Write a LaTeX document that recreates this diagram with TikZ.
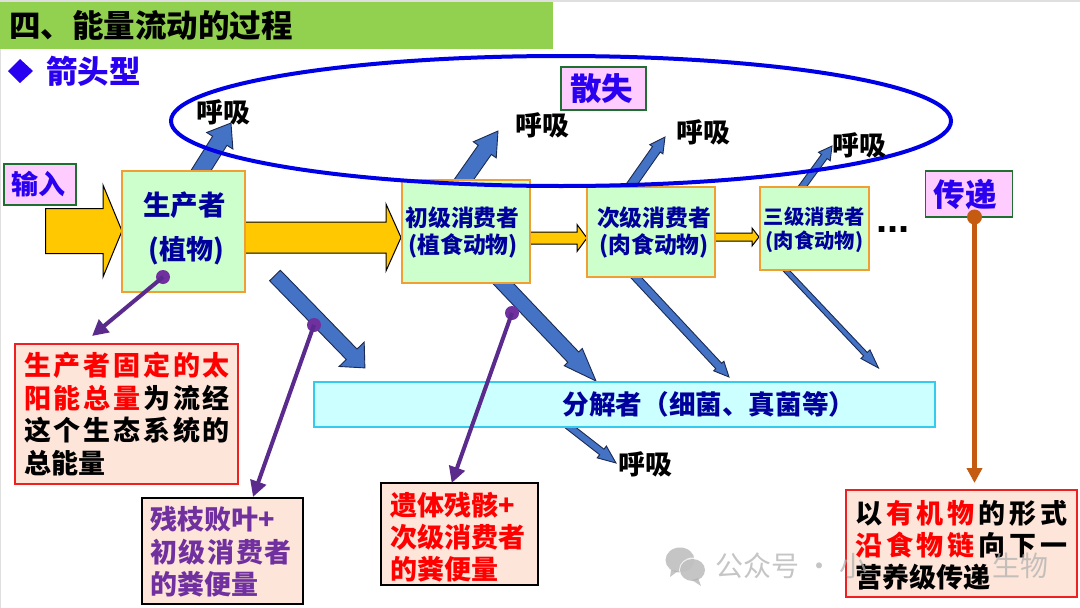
\documentclass[tikz,border=0pt]{standalone}
\usepackage{fontspec}
\setmainfont{Noto Sans CJK SC}
\newfontfamily\dotfont{Liberation Sans}
\usetikzlibrary{calc,arrows.meta}
\definecolor{hdr}{HTML}{92D050}
\definecolor{ttl}{HTML}{2A00F0}
\definecolor{navy}{HTML}{00009C}
\definecolor{pinkf}{HTML}{FFCCFF}
\definecolor{grnb}{HTML}{1F7030}
\definecolor{boxf}{HTML}{CCFFCC}
\definecolor{boxb}{HTML}{F0A030}
\definecolor{peach}{HTML}{FDE5D9}
\definecolor{redb}{HTML}{EE2020}
\definecolor{gold}{HTML}{FFC800}
\definecolor{bluef}{HTML}{4472C4}
\definecolor{blueb}{HTML}{1A2A50}
\definecolor{purp}{HTML}{7030A0}
\definecolor{purd}{HTML}{5A2A8C}
\definecolor{org}{HTML}{C55A11}
\definecolor{decf}{HTML}{CCFFFF}
\definecolor{decb}{HTML}{33CCEE}
\definecolor{ringc}{HTML}{0000E6}
\tikzset{
  x=1pt,y=-1pt,
  fs/.style={font=\fontsize{#1}{#1}\selectfont\bfseries},
  tagbox/.style={draw=grnb,line width=1.5pt,fill=pinkf,text=ttl,fs=#1,inner sep=0pt},
  lvlbox/.style={draw=boxb,line width=1.5pt,fill=boxf,inner sep=0pt},
  lvltxt/.style={text=navy,fs=#1,inner sep=0pt},
  breath/.style={text=black,fs=27,inner sep=0pt},
  notebox/.style={fill=peach,line width=1.5pt,inner sep=0pt},
  txtline/.style={anchor=west,fs=27,inner sep=0pt},
  golda/.style={draw=black,line width=1pt,fill=gold},
  bluea/.style={draw=blueb,line width=.9pt,fill=bluef},
  pdot/.style={circle,fill=purp,minimum size=14pt,inner sep=0pt},
  odot/.style={circle,fill=org,minimum size=15pt,inner sep=0pt},
  pconn/.style={draw=purd,line width=4pt,-{Triangle[length=16pt,width=16pt]}},
  oconn/.style={draw=org,line width=5.5pt,-{Triangle[length=15pt,width=15pt]}},
  wmark/.style={text=gray!60,font=\fontsize{28}{28}\selectfont,inner sep=0pt,anchor=west,opacity=.75},
}
% block arrow: from, to, shaft width, head width, head length, style
\newcommand\blockarrow[6]{%
  \path let \p1=($(#2)-(#1)$), \n1={atan2(\y1,\x1)}, \n2={veclen(\x1,\y1)} in
    \pgfextra{\xdef\baang{\n1}\xdef\balen{\n2}};
  \begin{scope}[shift={(#1)},rotate=\baang]
    \pgfmathsetmacro\bab{\balen-#5}
    \draw[#6,line join=miter] (0pt,{#3/2*1pt}) -- (\bab pt,{#3/2*1pt}) -- (\bab pt,{#4/2*1pt}) -- (\balen,0pt)
      -- (\bab pt,{-#4/2*1pt}) -- (\bab pt,{-#3/2*1pt}) -- (0pt,{-#3/2*1pt}) -- cycle;
  \end{scope}}
\newcommand\rd[1]{\textcolor{red}{#1}}
\newcommand\spcd[2]{{\addfontfeature{LetterSpace=#1}#2}}
\newcommand\gpa{\hskip2.8pt\relax}
\newcommand\gpb{\hskip3.9pt\relax}
\begin{document}
\begin{tikzpicture}
\useasboundingbox (0,0) rectangle (1080,608);
\fill[white] (0,0) rectangle (1080,608);
\fill[gray!25] (0,0) rectangle (1080,2);
\fill[gray!25] (0,0) rectangle (1,608);
% header
\node[fill=hdr,minimum width=553pt,minimum height=47pt,inner sep=0pt,anchor=north west] (hdrbar) at (0,2) {};
\node[fs=31.5,anchor=west,inner sep=0pt] (title) at (9,26) {四、能量流动的过程};
\fill[ttl] (8,71) -- (20,59) -- (33,71) -- (20,83) -- cycle;
\node[fs=31.5,text=ttl,anchor=west,inner sep=0pt] (sub) at (46,71) {箭头型};
% anchors for block arrows
\coordinate (inS) at (45.5,231);  \coordinate (inE) at (122,231);
\coordinate (g2S) at (245,237.5); \coordinate (g2E) at (401,237.5);
\coordinate (g3S) at (530,238);   \coordinate (g3E) at (587,238);
\coordinate (g4S) at (715,237);   \coordinate (g4E) at (759,237);
\coordinate (r1S) at (195,180);   \coordinate (r1E) at (231,123);
\coordinate (r2S) at (458,188);   \coordinate (r2E) at (498,131);
\coordinate (r3S) at (625,194);   \coordinate (r3E) at (665,137);
\coordinate (r4S) at (797,194);   \coordinate (r4E) at (832,146);
\coordinate (d1S) at (275,275.5); \coordinate (d1E) at (365,368);
\coordinate (d2S) at (497,277);   \coordinate (d2E) at (596,381);
\coordinate (d3S) at (630,271);   \coordinate (d3E) at (729,377);
\coordinate (d4S) at (780,264);   \coordinate (d4E) at (878.5,368);
\coordinate (d5S) at (562,421);   \coordinate (d5E) at (616,463);
% block arrows behind the boxes
\blockarrow{r1S}{r1E}{17}{31}{21}{bluea}
\blockarrow{r2S}{r2E}{16}{28}{23}{bluea}
\blockarrow{r3S}{r3E}{9.5}{16}{15}{bluea}
\blockarrow{r4S}{r4E}{7}{14.5}{13}{bluea}
\blockarrow{d1S}{d1E}{15}{35}{19}{bluea}
\blockarrow{d2S}{d2E}{15}{25}{33}{bluea}
\blockarrow{d3S}{d3E}{8}{14}{15}{bluea}
\blockarrow{d4S}{d4E}{5}{12.5}{19}{bluea}
\blockarrow{d5S}{d5E}{7}{15}{18}{bluea}
\blockarrow{inS}{inE}{45}{92}{19}{golda}
\blockarrow{g2S}{g2E}{31}{67}{15}{golda}
\blockarrow{g3S}{g3E}{12}{27}{10}{golda}
\blockarrow{g4S}{g4E}{8}{18}{7}{golda}
% level boxes
\draw[lvlbox] (122,171) rectangle (245,292);
\node[lvltxt=27.5] (prod1) at (184.5,205.5) {生产者};
\node[lvltxt=27] (prod2) at (186,250.5) {(植物)};
\draw[lvlbox] (402,180) rectangle (530,283);
\node[lvltxt=22.8] (c11) at (462.5,218) {初级消费者};
\node[lvltxt=22.8] (c12) at (463,246) {(植食动物)};
\draw[lvlbox] (587,187) rectangle (715,277);
\node[lvltxt=22.8] (c21) at (654,218) {次级消费者};
\node[lvltxt=22.8] (c22) at (654,246) {(肉食动物)};
\draw[lvlbox] (760,187) rectangle (869,270);
\node[lvltxt=20.3] (c31) at (814.5,217) {三级消费者};
\node[lvltxt=20.3] (c32) at (814.5,242) {(肉食动物)};
\node[font=\fontsize{40}{40}\selectfont\dotfont\bfseries,inner sep=0pt,anchor=base] (more) at (893,232.5) {...};
% decomposer
\draw[draw=decb,line width=1.5pt,fill=decf] (314,382) rectangle (935,427);
\node[lvltxt=26.6] (dec) at (709,404) {分解者（细菌、真菌等）};
% ellipse
\draw[draw=ringc,line width=4pt] (561,121) ellipse [x radius=390,y radius=65];
% tags
\node[tagbox=27,minimum width=72pt,minimum height=41pt] (tIn) at (40,184.5) {输入\kern2pt};
\node[tagbox=31.5,minimum width=85pt,minimum height=43pt] (tLoss) at (603.5,88.5) {散失\kern4pt};
\node[tagbox=31.5,minimum width=87pt,minimum height=46pt] (tPass) at (969,194) {传递\kern8pt};
% breath labels
\node[breath] (b1) at (223,112.5) {呼吸};
\node[breath] (b2) at (542,125.5) {呼吸};
\node[breath] (b3) at (703,132) {呼吸};
\node[breath] (b4) at (859,145) {呼吸};
\node[breath] (b5) at (645,464) {呼吸};
% notes
\draw[notebox,draw=redb] (15,344) rectangle (238,484);
\node[txtline] (a1) at (24,365) {\rd{生\gpa 产\gpa 者\gpa 固\gpa 定\gpa 的\gpa 太}};
\node[txtline] (a2) at (24,398) {\rd{阳\gpa 能\gpa 总\gpa 量}\gpa 为\gpa 流\gpa 经};
\node[txtline] (a3) at (24,430) {这\gpa 个\gpa 生\gpa 态\gpa 系\gpa 统\gpa 的};
\node[txtline] (a4) at (24,463) {总能量};
\draw[notebox,draw=black] (142,498) rectangle (303,604);
\node[txtline,text=purp] (n1) at (150,519) {残枝败叶+};
\node[txtline,text=purp] (n2) at (150,552) {\spcd{6}{初级消费者}};
\node[txtline,text=purp] (n3) at (150,584) {的粪便量};
\draw[notebox,draw=black] (381,483) rectangle (538,585);
\node[txtline,text=red] (s1) at (390,505) {遗体残骸+};
\node[txtline,text=red] (s2) at (390,537) {次级消费者};
\node[txtline,text=red] (s3) at (390,569) {的粪便量};
\draw[notebox,draw=redb] (846,490) rectangle (1077,597);
\node[txtline] (t1) at (855,513) {以\gpb\rd{有\gpb 机\gpb 物}\gpb 的\gpb 形\gpb 式};
\node[txtline] (t2) at (855,545) {\rd{沿\gpb 食\gpb 物\gpb 链}\gpb 向\gpb 下\gpb 一};
\node[txtline] (t3) at (855,577) {营养级传递};
% pointers
\node[pdot] (p1) at (163,277) {};
\node[pdot] (p2) at (314,325) {};
\node[pdot] (p3) at (512,313) {};
\node[odot] (p4) at (974.5,217) {};
\coordinate (p1E) at (92,336);
\coordinate (p2E) at (253,497);
\coordinate (p3E) at (451.7,483);
\coordinate (p4E) at (974.5,483);
\draw[pconn] (p1.center) -- (p1E);
\draw[pconn] (p2.center) -- (p2E);
\draw[pconn] (p3.center) -- (p3E);
\draw[oconn] (p4.center) -- (p4E);
% watermark
\begin{scope}[opacity=.75]
\fill[gray!60] (680,560) ellipse [x radius=14.5,y radius=12.5];
\fill[gray!60] (671,570) -- (670,577) -- (678,571) -- cycle;
\fill[white] (693,570) ellipse [x radius=14,y radius=12.5];
\fill[gray!60] (692.5,570) ellipse [x radius=12.5,y radius=11];
\fill[gray!60] (698,578) -- (701,586) -- (692,580) -- cycle;
\end{scope}
\node[wmark] (w1) at (715,566) {公众号 · 小};
\node[wmark] (w2) at (992,566) {生物};
\end{tikzpicture}
\end{document}
